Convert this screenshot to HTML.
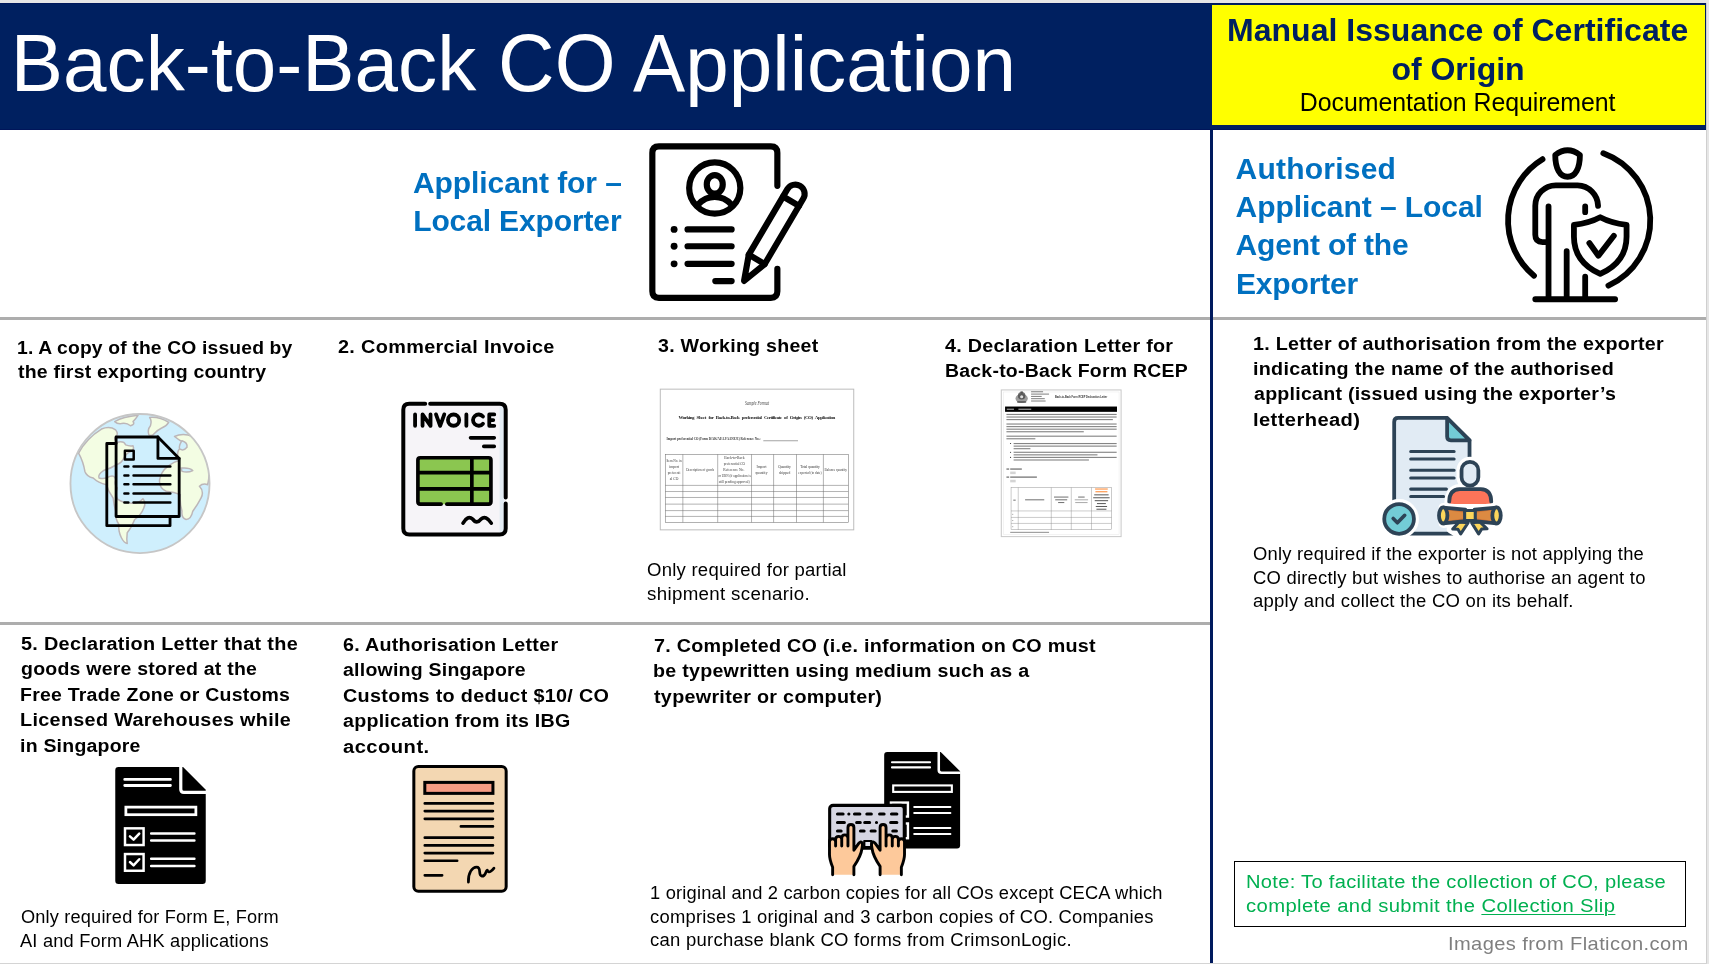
<!DOCTYPE html>
<html><head><meta charset="utf-8"><title>Back-to-Back CO Application</title>
<style>
html,body{margin:0;padding:0;}
body{width:1709px;height:964px;overflow:hidden;background:#e6e6e6;font-family:"Liberation Sans",sans-serif;position:relative;}
#slide{position:absolute;left:0;top:3px;width:1706px;height:959.5px;background:#fff;}
.abs,.t,svg.i{position:absolute;}
svg.i{will-change:transform;}
.t{white-space:nowrap;transform-origin:0 50%;}
#txt{position:absolute;left:0;top:0;width:1709px;height:964px;will-change:transform;}
.cp{display:inline-block;transform:scaleY(1.042);transform-origin:50% 74.1px;}
.t u{text-underline-offset:2px;text-decoration-thickness:1.3px;}
#hdr{left:0;top:3px;width:1706px;height:127px;background:#002060;box-shadow:inset 0 -1px 0 #00155a,inset 0 1px 0 #00185c;}
#ybox{left:1212.3px;top:4.6px;width:492.7px;height:120.6px;background:#ffff00;}
#vline{left:1210px;top:130px;width:3px;height:832.5px;background:#001a5e;}
.hl{height:3px;background:#adadad;}
#note{left:1233.8px;top:860.7px;width:452.2px;height:66.4px;border:1.2px solid #000;box-sizing:border-box;}
#shadowr{left:1706px;top:3px;width:1.3px;height:961px;background:#cfcfcf;}
#shadowb{left:0;top:962.5px;width:1707px;height:1.5px;background:#d4d4d4;}
</style></head><body>
<div id="slide"></div>
<div class="abs" id="shadowr"></div><div class="abs" id="shadowb"></div>
<div class="abs" id="hdr"></div>
<div class="abs" id="ybox"></div>
<div class="abs hl" style="left:0;top:317px;width:1706px"></div>
<div class="abs hl" style="left:0;top:622px;width:1210px"></div>
<div class="abs" id="vline"></div>
<div class="abs" id="note"></div>
<svg class="i" style="left:640px;top:135px" width="180" height="175" viewBox="0 0 992 964" fill="none" stroke="#000" stroke-width="34" stroke-linecap="round" stroke-linejoin="round">
<path d="M757 280V98Q757 62 721 62H104Q68 62 68 98V861Q68 897 104 897H721Q757 897 757 861V737"/>
<circle cx="412" cy="292" r="141"/>
<ellipse cx="412" cy="272" rx="44" ry="51"/>
<path d="M322 382A118 118 0 0 1 502 382"/>
<path d="M262 520H505M262 613H505M262 710H505M415 805H505"/>
<g fill="#000" stroke="none"><circle cx="188" cy="520" r="19"/><circle cx="188" cy="613" r="19"/><circle cx="188" cy="710" r="19"/></g>
<g transform="translate(570,810) rotate(30.5)">
<path d="M0 -7L-51 -145V-564A51 51 0 0 1 51 -564V-145Z" fill="#fff"/>
<path d="M-51 -145H51M-51 -517H51"/>
</g>
</svg>
<svg class="i" style="left:1495px;top:135px" width="180" height="175" viewBox="0 0 992 964" fill="none" stroke="#000" stroke-width="32" stroke-linecap="round" stroke-linejoin="round">
<path d="M262 133A395 395 0 0 0 215 775"/>
<path d="M597 100A395 395 0 0 1 625 830"/>
<path d="M332 110Q400 58 468 110C468 185 442 230 400 230C358 230 332 185 332 110Z"/>
<path d="M568 390A116 116 0 0 0 455 277H335A113 113 0 0 0 222 390V550Q222 590 262 590H285"/>
<path d="M295 393V900M395 640V900M497 393V425M497 780V900M222 905H662"/>
<path d="M435 495Q520 485 580 453Q640 485 725 495V560Q725 700 580 765Q435 700 435 560Z"/>
<path d="M520 595L570 665L655 555"/>
</svg>
<svg class="i" style="left:60px;top:405px" width="160" height="160" viewBox="0 0 964 964" fill="none" stroke-linecap="round" stroke-linejoin="round">
<defs><clipPath id="gc"><circle cx="482" cy="473" r="419"/></clipPath></defs>
<circle cx="482" cy="473" r="419" fill="#cfeffd"/>
<g clip-path="url(#gc)" fill="#f3fde3" stroke="#bcb6b8" stroke-width="9">
<path d="M330 100Q380 70 470 62Q455 85 440 100Q455 115 425 125Q400 105 370 112Q345 115 330 100Z"/>
<path d="M540 75Q600 70 655 105Q640 130 610 140Q590 150 570 170Q555 190 535 180Q525 150 545 125Q555 95 540 75Z"/>
<path d="M112 290Q160 200 250 145Q300 125 335 150Q355 175 335 190Q320 205 345 225Q385 215 395 240Q420 250 440 245Q450 270 425 280Q400 290 385 320Q370 350 340 360Q300 385 262 395Q225 420 235 440Q270 450 300 430Q330 420 335 450Q325 480 345 500Q330 540 345 565Q380 590 420 590Q470 600 500 565Q520 590 505 620Q490 660 450 690Q430 740 405 770Q400 810 405 835Q385 830 370 800Q350 760 355 720Q330 680 335 640Q325 600 320 560Q290 520 280 480Q230 470 200 440Q160 430 150 400Q140 340 112 290Z"/>
<path d="M690 190Q740 165 800 190Q860 260 890 350Q905 420 890 480Q860 470 840 490Q870 520 850 560Q830 600 800 640Q790 690 760 690Q730 680 735 640Q720 590 725 540Q690 525 640 520Q595 500 600 450Q610 400 650 370Q690 340 720 335Q700 300 715 270Q750 255 745 225Q720 215 690 190Z"/>
<path d="M735 215Q770 225 765 255Q745 280 720 265Q715 245 735 215Z" fill="#cfeffd"/>
<path d="M730 380Q780 375 800 395Q770 410 735 400Z" fill="#cfeffd"/>
</g>
<circle cx="482" cy="473" r="419" stroke="#c6c6c6" stroke-width="11"/>
<g stroke="#000" stroke-width="17">
<path d="M338 232H282V727H663V672"/>
<path d="M338 193H590L718 322V672H338Z"/>
<path d="M590 193V322H718"/>
<rect x="391" y="276" width="53" height="53" stroke-width="15"/>
<path stroke-width="15" d="M388 370H412M443 370H665M388 425H412M443 425H665M388 478H412M443 478H665M388 533H412M443 533H665M388 588H412M443 588H665"/>
</g>
</svg>
<svg class="i" style="left:390px;top:390px" width="130" height="160" viewBox="0 0 783 964" fill="none" stroke="#000" stroke-width="24" stroke-linecap="round" stroke-linejoin="round">
<rect x="80" y="83" width="617" height="787" rx="36" fill="#f6f4f8" stroke="none"/>
<rect x="660" y="100" width="28" height="755" fill="#e3ecf4" stroke="none"/>
<path d="M242 83H661Q697 83 697 119V648M697 684V834Q697 870 661 870H116Q80 870 80 834V119Q80 83 116 83H212"/>
<g stroke-width="23">
<path d="M151 147V216M196 216V147L244 216V147M277 147L302 216L327 147M460 147V216M628 147H598V216H628M598 181.5H622"/>
<circle cx="383" cy="181.5" r="34"/>
<path d="M560 159.6A34 34 0 1 0 560 203.4"/>
</g>
<path d="M485 288H628M565 340H628" stroke-width="22"/>
<rect x="168" y="408" width="440" height="280" rx="14" fill="#8bc650" stroke="none"/>
<path d="M342 688H594Q608 688 608 674V422Q608 408 594 408H182Q168 408 168 422V674Q168 688 182 688H308M168 498H608M168 596H608M493 408V688" stroke-width="22"/>
<path d="M440 802Q468 752 498 778Q522 812 548 778Q578 752 610 802" stroke-width="22"/>
</svg>
<svg class="i" style="left:650px;top:380px" width="220" height="160" viewBox="0 0 1326 964" fill="none">
<rect x="62" y="55" width="1166" height="848" fill="#fff" stroke="#bcbcbc" stroke-width="6"/>
<g font-family="'Liberation Serif',serif" fill="#3a3a3a" text-anchor="middle">
<text x="645" y="150" font-size="31" font-style="italic" textLength="145" lengthAdjust="spacingAndGlyphs" fill="#444">Sample Format</text>
<text x="644" y="237" font-size="30" font-weight="700" textLength="945" lengthAdjust="spacing" word-spacing="10" fill="#222">Working Sheet for Back-to-Back preferential Certificate of Origin (CO) Application</text>
<text x="383" y="364" font-size="22" font-weight="700" textLength="566" lengthAdjust="spacingAndGlyphs" fill="#333">Import preferential CO (Form D/AK/AI/AJ/AANZ/E) Reference No.:</text>
<g font-size="22" fill="#3c3c3c">
<text x="145" y="492" textLength="92" lengthAdjust="spacingAndGlyphs">Item No. in</text><text x="145" y="529">import</text><text x="145" y="566" textLength="76" lengthAdjust="spacingAndGlyphs">preferenti</text><text x="145" y="603">al CO</text>
<text x="302" y="547" textLength="168" lengthAdjust="spacingAndGlyphs">Description of goods</text>
<text x="509" y="474">Back-to-Back</text><text x="509" y="510" textLength="128" lengthAdjust="spacingAndGlyphs">preferential CO</text><text x="505" y="547">Reference No.</text><text x="509" y="584" textLength="196" lengthAdjust="spacingAndGlyphs">or URN (if application is</text><text x="507" y="621" textLength="186" lengthAdjust="spacingAndGlyphs">still pending approval)</text>
<text x="672" y="529">Import</text><text x="672" y="564">quantity</text>
<text x="811" y="529">Quantity</text><text x="811" y="564">shipped</text>
<text x="964" y="529" textLength="118" lengthAdjust="spacing">Total quantity</text><text x="964" y="564" textLength="140" lengthAdjust="spacingAndGlyphs">exported (to date)</text>
<text x="1120" y="547" textLength="135" lengthAdjust="spacingAndGlyphs">Balance quantity</text>
</g></g>
<path d="M683 366H892" stroke="#444" stroke-width="3"/>
<g stroke="#6e6e6e" stroke-width="3.2">
<rect x="92" y="448" width="1103" height="410"/>
<path d="M92 635H1195M92 672H1195M92 708H1195M92 748H1195M92 787H1195M92 822H1195M198 448V858M408 448V858M612 448V858M745 448V858M883 448V858M1045 448V858"/>
</g>
</svg>
<svg class="i" style="left:990px;top:380px" width="140" height="165" viewBox="0 0 818 964" fill="none">
<rect x="66" y="58" width="700" height="857" fill="#fff" stroke="#c9c9c9" stroke-width="6"/>
<rect x="78" y="70" width="676" height="833" stroke="#e3e3e3" stroke-width="2.5"/>
<g fill="#4a4a4a"><ellipse cx="185" cy="108" rx="36" ry="26" opacity=".55"/><circle cx="185" cy="92" r="22" opacity=".8"/><rect x="158" y="122" width="54" height="12" rx="5" opacity=".7"/><rect x="178" y="66" width="14" height="14" opacity=".8"/><circle cx="185" cy="98" r="9" fill="#fff" opacity=".8"/></g>
<rect x="240" y="66.0" width="70" height="5.5" fill="#555" opacity=".8"/>
<rect x="240" y="79.5" width="105" height="5.5" fill="#555" opacity=".8"/>
<rect x="240" y="93.0" width="62" height="5.5" fill="#555" opacity=".8"/>
<rect x="240" y="106.5" width="80" height="5.5" fill="#555" opacity=".8"/>
<rect x="240" y="120.0" width="85" height="5.5" fill="#555" opacity=".8"/>
<text x="532" y="106" font-family="'Liberation Sans',sans-serif" font-weight="700" font-size="15.5" fill="#333" text-anchor="middle" textLength="305" lengthAdjust="spacingAndGlyphs">Back-to-Back Form RCEP Declaration Letter</text>
<rect x="88" y="155" width="654" height="31" fill="#000"/>
<rect x="98" y="168" width="42" height="5" fill="#fff" opacity=".85"/><rect x="166" y="168" width="75" height="5" fill="#fff" opacity=".85"/>
<rect x="96" y="198" width="644" height="6.6" fill="#3a3a3a" opacity="0.62"/>
<rect x="96" y="213" width="644" height="6.6" fill="#3a3a3a" opacity="0.62"/>
<rect x="96" y="228" width="622" height="6.6" fill="#3a3a3a" opacity="0.62"/>
<rect x="96" y="254" width="644" height="6.6" fill="#3a3a3a" opacity="0.62"/>
<rect x="96" y="269" width="644" height="6.6" fill="#3a3a3a" opacity="0.62"/>
<rect x="96" y="284" width="644" height="6.6" fill="#3a3a3a" opacity="0.62"/>
<rect x="96" y="299" width="452" height="6.6" fill="#3a3a3a" opacity="0.62"/>
<rect x="96" y="325" width="644" height="6.6" fill="#3a3a3a" opacity="0.62"/>
<rect x="96" y="340" width="169" height="6.6" fill="#3a3a3a" opacity="0.62"/>
<circle cx="120" cy="371" r="3.5" fill="#333"/>
<rect x="138" y="368" width="602" height="6.6" fill="#3a3a3a" opacity="0.62"/>
<rect x="138" y="383" width="602" height="6.6" fill="#3a3a3a" opacity="0.62"/>
<rect x="138" y="398" width="98" height="6.6" fill="#3a3a3a" opacity="0.62"/>
<circle cx="120" cy="422" r="3.5" fill="#333"/>
<rect x="138" y="419" width="602" height="6.6" fill="#3a3a3a" opacity="0.62"/>
<rect x="138" y="434" width="490" height="6.6" fill="#3a3a3a" opacity="0.62"/>
<circle cx="120" cy="452" r="3.5" fill="#333"/>
<rect x="138" y="449" width="602" height="6.6" fill="#3a3a3a" opacity="0.62"/>
<rect x="138" y="464" width="440" height="6.6" fill="#3a3a3a" opacity="0.62"/>
<rect x="96" y="517" width="16" height="6.6" fill="#3a3a3a" opacity="0.8"/>
<rect x="118" y="517" width="68" height="6.6" fill="#3a3a3a" opacity="0.8"/>
<rect x="118" y="535" width="32" height="15" fill="#d4d4d4"/>
<rect x="96" y="564" width="16" height="6.6" fill="#3a3a3a" opacity="0.8"/>
<rect x="118" y="564" width="156" height="6.6" fill="#3a3a3a" opacity="0.8"/>
<rect x="118" y="583" width="32" height="15" fill="#d4d4d4"/>
<g stroke="#8a8a8a" stroke-width="2.6"><rect x="123" y="628" width="587" height="247"/><path d="M123 765H710M123 803H710M123 838H710M165 628V875M358 628V875M475 628V875M593 628V875"/></g>
<rect x="136.0" y="699.0" width="14" height="6" fill="#444" opacity="0.75"/>
<rect x="205.0" y="697.0" width="112" height="6" fill="#444" opacity="0.75"/>
<rect x="374.0" y="681.0" width="84" height="6" fill="#444" opacity="0.75"/>
<rect x="381.0" y="697.0" width="70" height="6" fill="#444" opacity="0.75"/>
<rect x="398.0" y="713.0" width="36" height="6" fill="#444" opacity="0.75"/>
<rect x="515.0" y="681.0" width="38" height="6" fill="#444" opacity="0.75"/>
<rect x="495.0" y="697.0" width="78" height="6" fill="#777" opacity="0.6"/>
<rect x="498.0" y="713.0" width="72" height="6" fill="#777" opacity="0.6"/>
<rect x="614.0" y="634.0" width="74" height="6" fill="#ff7a1a" opacity="0.9"/>
<rect x="616.0" y="650.0" width="70" height="6" fill="#ff7a1a" opacity="0.9"/>
<rect x="609.0" y="668.0" width="84" height="6" fill="#333" opacity="0.8"/>
<rect x="603.0" y="685.0" width="96" height="6" fill="#333" opacity="0.8"/>
<rect x="612.0" y="702.0" width="78" height="6" fill="#333" opacity="0.8"/>
<rect x="625.0" y="719.0" width="52" height="6" fill="#333" opacity="0.8"/>
<rect x="618.0" y="736.0" width="66" height="6" fill="#333" opacity="0.8"/>
<rect x="622.0" y="752.0" width="58" height="6" fill="#333" opacity="0.8"/>
<rect x="130.5" y="782.0" width="5" height="6" fill="#666" opacity="0.7"/>
<rect x="130.5" y="818.0" width="5" height="6" fill="#666" opacity="0.7"/>
<rect x="130.5" y="854.0" width="5" height="6" fill="#666" opacity="0.7"/>
<rect x="118" y="887" width="227" height="6.6" fill="#3a3a3a" opacity="0.5"/>
</svg>
<svg class="i" style="left:1375px;top:410px" width="135" height="135" viewBox="0 0 964 964" fill="none" stroke="#2d4356" stroke-width="27" stroke-linecap="round" stroke-linejoin="round">
<path d="M137 883V85Q137 57 165 57H515L675 217V883Z" fill="#e1ebf4"/>
<path d="M515 57V190Q515 217 542 217H675Z" fill="#73ccd6"/>
<path d="M255 296H565M255 350H565M255 430H565M255 485H565M255 565H510M255 618H490" stroke-width="22"/>
<!-- person -->
<g stroke="#fff" stroke-width="72" fill="#fff">
<rect x="618" y="370" width="120" height="170" rx="60"/>
<path d="M530 690Q530 568 605 565H755Q830 568 830 690Z"/>
</g>
<rect x="618" y="370" width="120" height="170" rx="60" fill="#e1ebf4"/>
<path d="M530 672Q530 568 605 565H755Q830 568 830 672Z" fill="#fc7459" stroke="none"/>
<path d="M530 655Q530 568 605 565H755Q830 568 830 655"/>
<!-- scroll halo -->
<g stroke="#fff" stroke-width="66" fill="#fff">
<path d="M487 697L645 712H711L868 697V809L711 794H645L487 809Z"/>
<path d="M560 800L545 850L610 890L677 830L745 890L805 850L790 800Z"/>
<path d="M560 800H800V930H560Z" stroke="none"/>
</g>
<!-- ribbon tails -->
<path d="M600 800L555 850L592 852L612 885L665 805Z" fill="#fcd65b" stroke-width="22"/>
<path d="M690 805L740 885L762 850L800 848L750 800Z" fill="#fcd65b" stroke-width="22"/>
<!-- scroll -->
<path d="M487 697L645 712V794L487 809Z" fill="#cf7437"/>
<path d="M868 697L711 712V794L868 809Z" fill="#cf7437"/>
<path d="M520 716L640 733V773L520 790Z" fill="#dc8a42" stroke="none"/>
<path d="M835 716L716 733V773L835 790Z" fill="#dc8a42" stroke="none"/>
<ellipse cx="487" cy="753" rx="30" ry="57" fill="#fcd65b"/>
<ellipse cx="868" cy="753" rx="30" ry="57" fill="#fcd65b"/>
<rect x="640" y="718" width="76" height="72" rx="8" fill="#fcd65b" stroke-width="22"/>
<!-- check badge -->
<circle cx="172" cy="778" r="106" fill="#fff" stroke="#fff" stroke-width="72"/>
<circle cx="172" cy="778" r="106" fill="#73ccd6"/>
<path d="M130 775L160 805L212 752" stroke-width="26"/>
</svg>
<svg class="i" style="left:100px;top:755px" width="120" height="140" viewBox="0 0 826 964" fill="none" stroke="#fff" stroke-linecap="butt" stroke-linejoin="miter">
<path d="M127 83H572L728 239V866Q728 888 706 888H127Q105 888 105 866V105Q105 83 127 83Z" fill="#000" stroke="none"/>
<path d="M556 80V236Q556 258 578 258H731" stroke-width="22"/>
<path d="M170 168H485M170 210H485" stroke-width="19" stroke-linecap="round"/>
<rect x="178" y="359" width="482" height="52" stroke-width="19"/>
<rect x="172" y="505" width="128" height="115" stroke-width="17"/>
<rect x="172" y="682" width="128" height="115" stroke-width="17"/>
<path d="M206 560L231 583L270 541M206 737L231 760L270 718" stroke-width="17" stroke-linecap="round" stroke-linejoin="round"/>
<path d="M352 540H650M352 588H650M352 715H650M352 765H650" stroke-width="17" stroke-linecap="round"/>
</svg>
<svg class="i" style="left:400px;top:755px" width="120" height="145" viewBox="0 0 798 964" fill="none" stroke="#000" stroke-width="20" stroke-linecap="round" stroke-linejoin="round">
<rect x="92" y="76" width="614" height="830" rx="30" fill="#f3d7b2"/>
<rect x="165" y="182" width="453" height="73" fill="#f79c83" stroke-linejoin="miter"/>
<path d="M165 322H618M165 373H618M165 424H618M405 475H618M165 550H618M165 601H618M165 652H618M165 703H380M165 800H280" stroke-width="18"/>
<path d="M455 845C452 785 480 745 510 745C545 745 515 800 545 806C572 806 568 772 580 765C590 790 610 772 625 752" stroke-width="18"/>
</svg>
<svg class="i" style="left:815px;top:740px" width="160" height="145" viewBox="0 0 1064 964" fill="none" stroke="#fff" stroke-linecap="butt">
<path d="M480 80H836L965 207V702Q965 722 945 722H480Q460 722 460 702V100Q460 80 480 80Z" fill="#000" stroke="none"/>
<path d="M823 77V200Q823 218 841 218H968" stroke-width="17"/>
<path d="M512 148H765M512 182H765" stroke-width="14" stroke-linecap="round"/>
<rect x="520" y="302" width="390" height="43" stroke-width="14"/>
<rect x="505" y="416" width="113" height="93" stroke-width="16"/>
<rect x="505" y="555" width="113" height="98" stroke-width="16"/>
<path d="M660 445H900M660 485H900M660 585H900M660 625H900" stroke-width="14" stroke-linecap="round"/>
<svg x="46.55" y="399" width="598.5" height="545.3" viewBox="0 0 1058 964" stroke="#000" stroke-width="34" stroke-linecap="round" stroke-linejoin="round">
<rect x="90" y="63" width="877" height="505" rx="40" fill="#d6d6e2" stroke-width="36"/>
<rect x="497" y="482" width="84" height="72" fill="#e4e4ee" stroke-width="26"/>
<path stroke-width="36" d="M182 165H248M315 165H316M382 165H445M527 165H580M677 165H730M817 165H880M182 265H263M407 265H450M502 265H560M640 265H641M807 265H880M182 365H225M452 365H495M577 365H625M832 365H875"/>
<g>
<path d="M125 880V790C105 740 88 690 88 640V490Q88 455 124 455Q160 455 160 470Q160 428 196 428Q232 428 232 455Q232 410 268 410Q305 410 305 448V322Q305 287 340 287Q375 287 375 322V590L432 510Q450 485 470 500Q482 520 470 570Q458 660 375 780V880Z" fill="#fdc99b" stroke="none"/>
<path d="M125 880V790C105 740 88 690 88 640V490Q88 455 124 455Q160 455 160 490V540M160 490V465Q160 428 196 428Q232 428 232 465V540M232 465V448Q232 410 268 410Q305 410 305 448V540M305 448V322Q305 287 340 287Q375 287 375 322V590L432 510Q450 485 470 500Q482 520 470 570Q458 660 375 780V880"/>
</g>
<g transform="translate(1058,0) scale(-1,1)">
<path d="M125 880V790C105 740 88 690 88 640V490Q88 455 124 455Q160 455 160 470Q160 428 196 428Q232 428 232 455Q232 410 268 410Q305 410 305 448V322Q305 287 340 287Q375 287 375 322V590L432 510Q450 485 470 500Q482 520 470 570Q458 660 375 780V880Z" fill="#fdc99b" stroke="none"/>
<path d="M125 880V790C105 740 88 690 88 640V490Q88 455 124 455Q160 455 160 490V540M160 490V465Q160 428 196 428Q232 428 232 465V540M232 465V448Q232 410 268 410Q305 410 305 448V540M305 448V322Q305 287 340 287Q375 287 375 322V590L432 510Q450 485 470 500Q482 520 470 570Q458 660 375 780V880"/>
</g>
</svg>
</svg>
<div id="txt">
<div class="t" style="left:10.85px;top:16.90px;font-size:78.2px;line-height:94px;font-weight:400;color:#fff;letter-spacing:0.045px;"><span class="cp">B</span>ack-to-<span class="cp">B</span>ack <span class="cp">C</span><span class="cp">O</span> <span class="cp" style="margin-left:-4.31px">A</span>pplication</div>
<div class="t" style="left:1227.00px;top:10.91px;font-size:32px;line-height:38px;font-weight:700;color:#002060;letter-spacing:0.021px;">Manual Issuance of Certificate</div>
<div class="t" style="left:1391.50px;top:49.91px;font-size:32px;line-height:38px;font-weight:700;color:#002060;letter-spacing:-0.033px;">of Origin</div>
<div class="t" style="left:1299.80px;top:87.37px;font-size:24.9px;line-height:30px;font-weight:400;color:#000;letter-spacing:-0.047px;">Documentation Requirement</div>
<div class="t" style="left:413.00px;top:164.60px;font-size:30.0px;line-height:36px;font-weight:700;color:#0070c0;letter-spacing:-0.081px;">Applicant for –</div>
<div class="t" style="left:413.20px;top:202.60px;font-size:30.0px;line-height:36px;font-weight:700;color:#0070c0;letter-spacing:-0.130px;">Local Exporter</div>
<div class="t" style="left:1235.60px;top:150.60px;font-size:30.0px;line-height:36px;font-weight:700;color:#0070c0;letter-spacing:0.221px;">Authorised</div>
<div class="t" style="left:1235.60px;top:188.60px;font-size:30.0px;line-height:36px;font-weight:700;color:#0070c0;letter-spacing:-0.065px;">Applicant – Local</div>
<div class="t" style="left:1235.60px;top:226.60px;font-size:30.0px;line-height:36px;font-weight:700;color:#0070c0;letter-spacing:-0.172px;">Agent of the</div>
<div class="t" style="left:1236.00px;top:265.61px;font-size:30.0px;line-height:36px;font-weight:700;color:#0070c0;letter-spacing:-0.171px;">Exporter</div>
<div class="t" style="left:17.37px;top:336.52px;font-size:18.7px;line-height:22px;font-weight:700;color:#000;letter-spacing:0.157px;transform:scaleX(1.0319);">1. A copy of the CO issued by</div>
<div class="t" style="left:18.40px;top:360.52px;font-size:18.7px;line-height:22px;font-weight:700;color:#000;letter-spacing:0.202px;transform:scaleX(1.0435);">the first exporting country</div>
<div class="t" style="left:337.90px;top:335.52px;font-size:18.7px;line-height:22px;font-weight:700;color:#000;letter-spacing:0.312px;transform:scaleX(1.0625);">2. Commercial Invoice</div>
<div class="t" style="left:657.60px;top:334.52px;font-size:18.7px;line-height:22px;font-weight:700;color:#000;letter-spacing:0.246px;transform:scaleX(1.0481);">3. Working sheet</div>
<div class="t" style="left:945.40px;top:334.52px;font-size:18.7px;line-height:22px;font-weight:700;color:#000;letter-spacing:0.251px;transform:scaleX(1.0565);">4. Declaration Letter for</div>
<div class="t" style="left:945.06px;top:359.52px;font-size:18.7px;line-height:22px;font-weight:700;color:#000;letter-spacing:0.226px;transform:scaleX(1.0404);">Back-to-Back Form RCEP</div>
<div class="t" style="left:1253.15px;top:332.52px;font-size:18.7px;line-height:22px;font-weight:700;color:#000;letter-spacing:0.244px;transform:scaleX(1.0544);">1. Letter of authorisation from the exporter</div>
<div class="t" style="left:1252.94px;top:357.52px;font-size:18.7px;line-height:22px;font-weight:700;color:#000;letter-spacing:0.262px;transform:scaleX(1.0559);">indicating the name of the authorised</div>
<div class="t" style="left:1254.00px;top:382.52px;font-size:18.7px;line-height:22px;font-weight:700;color:#000;letter-spacing:0.229px;transform:scaleX(1.0490);">applicant (issued using the exporter’s</div>
<div class="t" style="left:1252.92px;top:408.52px;font-size:18.7px;line-height:22px;font-weight:700;color:#000;letter-spacing:0.370px;transform:scaleX(1.0785);">letterhead)</div>
<div class="t" style="left:21.20px;top:632.52px;font-size:18.7px;line-height:22px;font-weight:700;color:#000;letter-spacing:0.277px;transform:scaleX(1.0628);">5. Declaration Letter that the</div>
<div class="t" style="left:21.20px;top:657.52px;font-size:18.7px;line-height:22px;font-weight:700;color:#000;letter-spacing:0.215px;transform:scaleX(1.0433);">goods were stored at the</div>
<div class="t" style="left:20.16px;top:683.52px;font-size:18.7px;line-height:22px;font-weight:700;color:#000;letter-spacing:0.222px;transform:scaleX(1.0426);">Free Trade Zone or Customs</div>
<div class="t" style="left:20.14px;top:708.52px;font-size:18.7px;line-height:22px;font-weight:700;color:#000;letter-spacing:0.306px;transform:scaleX(1.0585);">Licensed Warehouses while</div>
<div class="t" style="left:20.16px;top:734.52px;font-size:18.7px;line-height:22px;font-weight:700;color:#000;letter-spacing:0.220px;transform:scaleX(1.0420);">in Singapore</div>
<div class="t" style="left:342.70px;top:633.52px;font-size:18.7px;line-height:22px;font-weight:700;color:#000;letter-spacing:0.248px;transform:scaleX(1.0536);">6. Authorisation Letter</div>
<div class="t" style="left:342.70px;top:658.52px;font-size:18.7px;line-height:22px;font-weight:700;color:#000;letter-spacing:0.224px;transform:scaleX(1.0433);">allowing Singapore</div>
<div class="t" style="left:342.70px;top:684.52px;font-size:18.7px;line-height:22px;font-weight:700;color:#000;letter-spacing:0.302px;transform:scaleX(1.0585);">Customs to deduct $10/ CO</div>
<div class="t" style="left:342.70px;top:709.52px;font-size:18.7px;line-height:22px;font-weight:700;color:#000;letter-spacing:0.238px;transform:scaleX(1.0509);">application from its IBG</div>
<div class="t" style="left:342.70px;top:735.52px;font-size:18.7px;line-height:22px;font-weight:700;color:#000;letter-spacing:0.429px;transform:scaleX(1.0795);">account.</div>
<div class="t" style="left:654.30px;top:634.52px;font-size:18.7px;line-height:22px;font-weight:700;color:#000;letter-spacing:0.267px;transform:scaleX(1.0553);">7. Completed CO (i.e. information on CO must</div>
<div class="t" style="left:653.25px;top:659.52px;font-size:18.7px;line-height:22px;font-weight:700;color:#000;letter-spacing:0.252px;transform:scaleX(1.0507);">be typewritten using medium such as a</div>
<div class="t" style="left:654.30px;top:685.52px;font-size:18.7px;line-height:22px;font-weight:700;color:#000;letter-spacing:0.274px;transform:scaleX(1.0564);">typewriter or computer)</div>
<div class="t" style="left:647.00px;top:560.44px;font-size:17.5px;line-height:21px;font-weight:400;color:#000;letter-spacing:0.228px;transform:scaleX(1.0590);">Only required for partial</div>
<div class="t" style="left:647.00px;top:584.44px;font-size:17.5px;line-height:21px;font-weight:400;color:#000;letter-spacing:0.302px;transform:scaleX(1.0698);">shipment scenario.</div>
<div class="t" style="left:1253.40px;top:544.44px;font-size:17.5px;line-height:21px;font-weight:400;color:#000;letter-spacing:0.194px;transform:scaleX(1.0501);">Only required if the exporter is not applying the</div>
<div class="t" style="left:1253.40px;top:568.44px;font-size:17.5px;line-height:21px;font-weight:400;color:#000;letter-spacing:0.213px;transform:scaleX(1.0530);">CO directly but wishes to authorise an agent to</div>
<div class="t" style="left:1253.40px;top:591.44px;font-size:17.5px;line-height:21px;font-weight:400;color:#000;letter-spacing:0.223px;transform:scaleX(1.0566);">apply and collect the CO on its behalf.</div>
<div class="t" style="left:20.50px;top:907.44px;font-size:17.5px;line-height:21px;font-weight:400;color:#000;letter-spacing:0.169px;transform:scaleX(1.0390);">Only required for Form E, Form</div>
<div class="t" style="left:20.00px;top:931.44px;font-size:17.5px;line-height:21px;font-weight:400;color:#000;letter-spacing:0.188px;transform:scaleX(1.0419);">AI and Form AHK applications</div>
<div class="t" style="left:650.06px;top:883.44px;font-size:17.5px;line-height:21px;font-weight:400;color:#000;letter-spacing:0.187px;transform:scaleX(1.0447);">1 original and 2 carbon copies for all COs except CECA which</div>
<div class="t" style="left:650.40px;top:907.44px;font-size:17.5px;line-height:21px;font-weight:400;color:#000;letter-spacing:0.217px;transform:scaleX(1.0509);">comprises 1 original and 3 carbon copies of CO. Companies</div>
<div class="t" style="left:650.40px;top:930.44px;font-size:17.5px;line-height:21px;font-weight:400;color:#000;letter-spacing:0.247px;transform:scaleX(1.0562);">can purchase blank CO forms from CrimsonLogic.</div>
<div class="t" style="left:1246.43px;top:869.99px;font-size:18.8px;line-height:23px;font-weight:400;color:#00b050;letter-spacing:0.285px;transform:scaleX(1.0706);">Note: To facilitate the collection of CO, please</div>
<div class="t" style="left:1246.30px;top:893.99px;font-size:18.8px;line-height:23px;font-weight:400;color:#00b050;letter-spacing:0.342px;transform:scaleX(1.0794);">complete and submit the <u>Collection Slip</u></div>
<div class="t" style="left:1447.82px;top:932.56px;font-size:18.6px;line-height:22px;font-weight:400;color:#7f7f7f;letter-spacing:0.370px;transform:scaleX(1.0805);">Images from Flaticon.com</div>
</div>
</body></html>
